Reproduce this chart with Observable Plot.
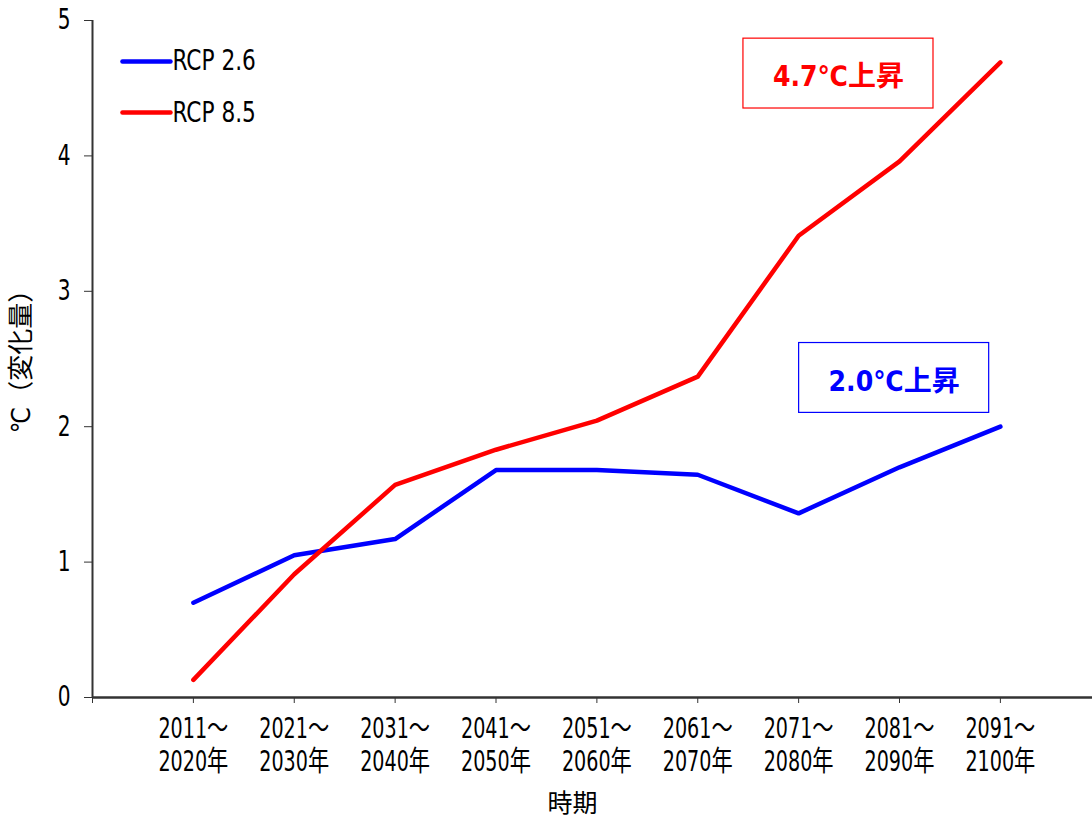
<!DOCTYPE html>
<html><head><meta charset="utf-8">
<script src="https://cdn.jsdelivr.net/npm/d3@7"></script>
<script src="https://cdn.jsdelivr.net/npm/@observablehq/plot@0.6"></script>
<style>body{margin:0;background:#fff}#chart{width:1092px;height:816px}</style>
</head><body><div id="chart"></div>
<script>
const periods = ["2011～\n2020年","2021～\n2030年","2031～\n2040年","2041～\n2050年","2051～\n2060年","2061～\n2070年","2071～\n2080年","2081～\n2090年","2091～\n2100年"];
const rcp26 = [0.70, 1.05, 1.17, 1.68, 1.68, 1.645, 1.36, 1.70, 2.00];
const rcp85 = [0.13, 0.91, 1.57, 1.83, 2.045, 2.37, 3.41, 3.96, 4.69];
const seriesNames = ["RCP 2.6", "RCP 8.5"];
const seriesColors = ["#0000ff", "#ff0000"];
const yTicks = [0, 1, 2, 3, 4, 5];
const annotationLabels = ["4.7℃上昇", "2.0℃上昇"];
const annotationColors = ["#ff0000", "#0000ff"];
const xTitle = "時期";
const yTitle = "℃（変化量）";

const FONT = "'Liberation Sans Narrow','DejaVu Sans Condensed','DejaVu Sans','Noto Sans CJK JP',sans-serif";

// rows (x is 1-based category index; 0 is the empty leading slot of the category axis)
const rows = [];
periods.forEach((p, i) => {
  rows.push({x: i + 1, y: rcp26[i], s: seriesNames[0]});
  rows.push({x: i + 1, y: rcp85[i], s: seriesNames[1]});
});

// layout of annotation boxes (category-index / value units)
const annLayout = [
  {cx: 7.395, cy: 4.608, hw: 0.942, hh: 0.258, ty: 4.58},
  {cx: 7.947, cy: 2.36, hw: 0.942, hh: 0.258, ty: 2.33}
];
const ann = annotationLabels.map((label, i) => ({label, color: annotationColors[i], ...annLayout[i]}));

// legend layout
const legend = seriesNames.map((name, i) => ({name, color: seriesColors[i], x1: 0.297, x2: 0.773, y: [4.697, 4.32][i]}));

const chart = Plot.plot({
  width: 1092,
  height: 816,
  marginLeft: 92,
  marginRight: 0,
  marginTop: 20,
  marginBottom: 119,
  style: {fontFamily: FONT, color: "#000", background: "#fff"},
  x: {type: "linear", domain: [0, 1000 / 100.875]},
  y: {domain: [0, 5]},
  color: {domain: seriesNames, range: seriesColors},
  marks: [
    Plot.axisY({ticks: yTicks, tickFormat: d => String(d), tickSize: 8, tickPadding: 14, fontSize: 28, label: null, stroke: "#333"}),
    Plot.axisX({ticks: d3.range(0, 10), tickFormat: i => i === 0 ? "" : periods[i - 1], tickSize: 6, tickPadding: 11, fontSize: 28, lineHeight: 1.18, label: null, stroke: "#333"}),
    Plot.ruleX([0], {stroke: "#333", strokeWidth: 2}),
    Plot.ruleY([0], {stroke: "#333", strokeWidth: 2.5}),
    Plot.line(rows, {x: "x", y: "y", z: "s", stroke: "s", strokeWidth: 4.5, strokeLinecap: "round", strokeLinejoin: "round"}),
    Plot.rect(ann, {x1: d => d.cx - d.hw, x2: d => d.cx + d.hw, y1: d => d.cy - d.hh, y2: d => d.cy + d.hh, fill: "white", stroke: d => d.color, strokeWidth: 1.2}),
    Plot.text(ann, {x: "cx", y: "ty", text: "label", fill: d => d.color, fontSize: 28, fontWeight: "bold", letterSpacing: 1}),
    Plot.link(legend, {x1: "x1", x2: "x2", y1: "y", y2: "y", stroke: "color", strokeWidth: 4.5, strokeLinecap: "round"}),
    Plot.text(legend, {x: "x2", y: "y", text: "name", textAnchor: "start", dx: 2, fontSize: 28, fill: "#000", letterSpacing: 2.5, className: "squeeze-legend"}),
    Plot.text([xTitle], {frameAnchor: "bottom", textAnchor: "middle", lineAnchor: "middle", dy: 106, dx: -20, fontSize: 25, fill: "#000"}),
    Plot.text([yTitle], {frameAnchor: "left", textAnchor: "middle", lineAnchor: "middle", rotate: -90, dx: -71, dy: -4, fontSize: 26, fill: "#000"})
  ]
});

// narrow the glyphs horizontally (the reference uses a condensed face)
function squeeze(nodes, s) {
  nodes.forEach(t => {
    const tr = t.getAttribute("transform");
    if (tr) t.setAttribute("transform", tr + ` scale(${s},1)`);
    else {
      const x = +t.getAttribute("x") || 0;
      t.setAttribute("transform", `translate(${x},0) scale(${s},1) translate(${-x},0)`);
    }
  });
}
squeeze(chart.querySelectorAll('g[aria-label="x-axis tick label"] text'), 0.76);
squeeze(chart.querySelectorAll('g[aria-label="y-axis tick label"] text'), 0.8);
squeeze(chart.querySelectorAll('g.squeeze-legend text'), 0.86);
document.getElementById("chart").append(chart);
</script>
</body></html>
